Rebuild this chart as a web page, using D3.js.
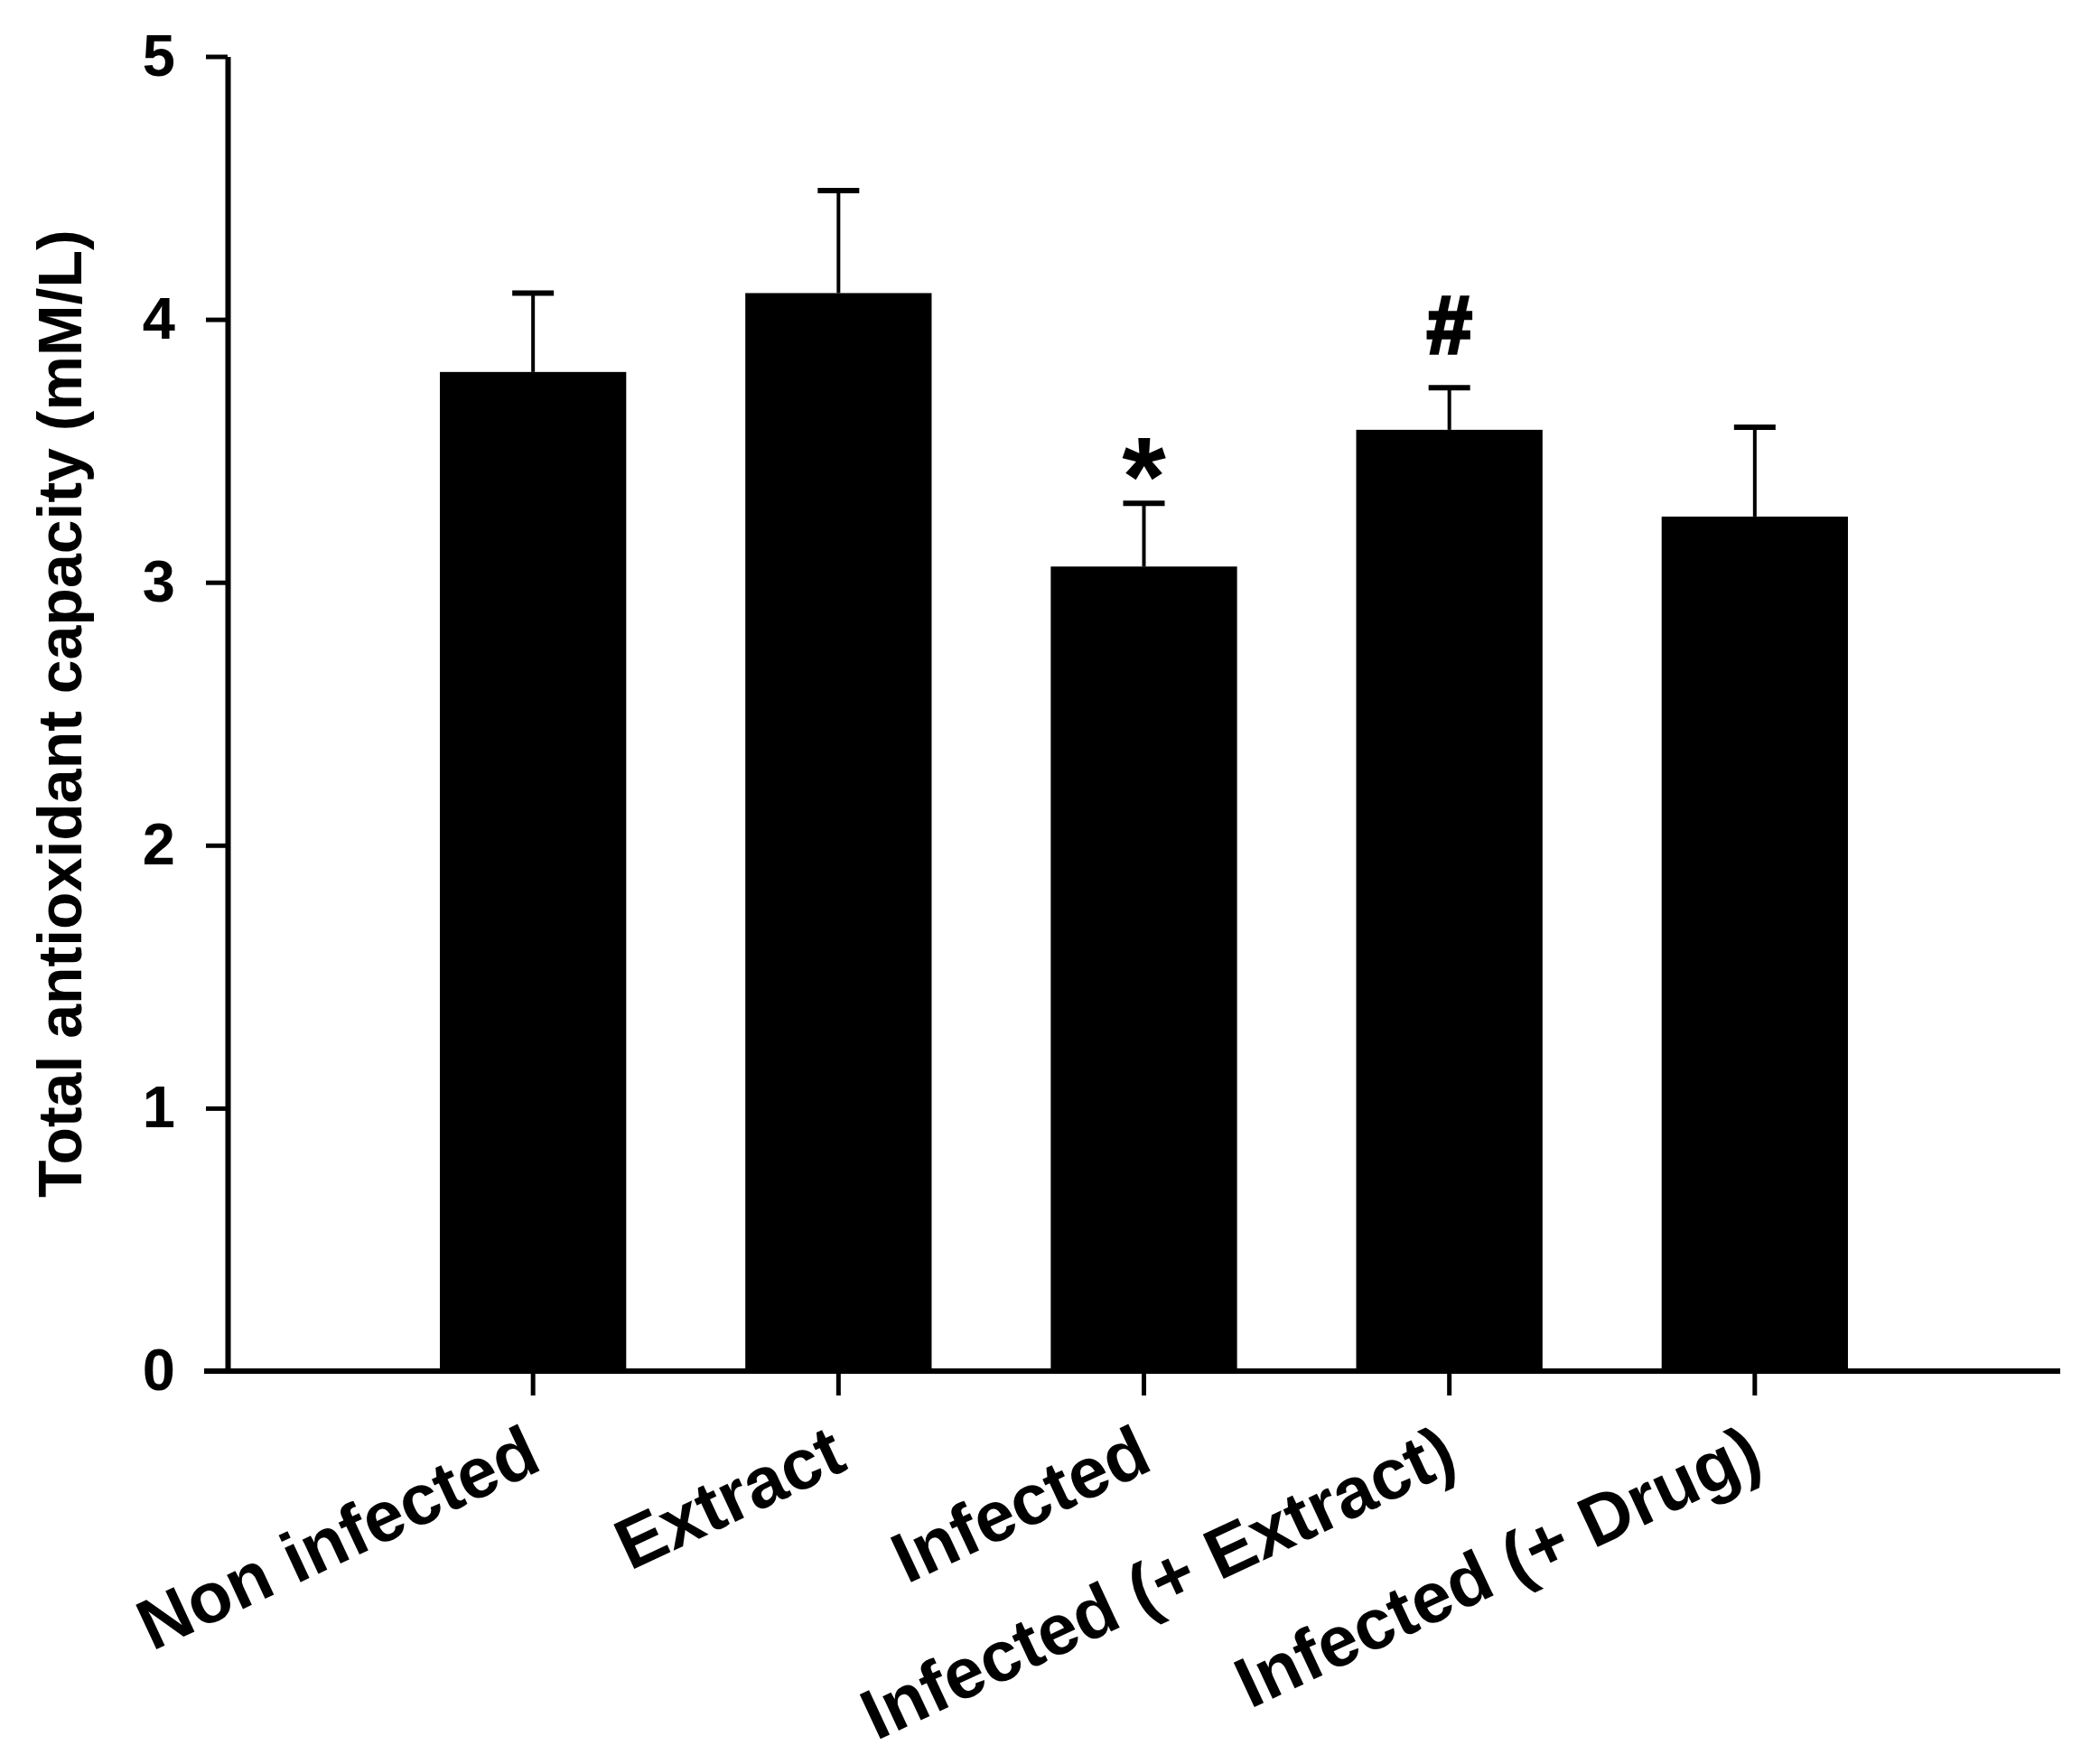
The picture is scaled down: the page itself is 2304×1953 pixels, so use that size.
<!DOCTYPE html>
<html>
<head>
<meta charset="utf-8">
<script src="https://cdn.jsdelivr.net/npm/d3@7"></script>
<style>
  html, body { margin: 0; padding: 0; background: #fff; }
  text { font-family: "Liberation Sans", Arial, sans-serif; font-weight: bold; fill: #000; }
</style>
</head>
<body>
<svg id="chart" width="2304" height="1953"></svg>
<script>
// values
var groups = ["Non infected", "Extract", "Infected", "Infected (+ Extract)", "Infected (+ Drug)"];
var means = [3.80, 4.10, 3.06, 3.58, 3.25];
var errors = [0.30, 0.39, 0.24, 0.16, 0.34];
var marks = ["", "", "*", "#", ""];
var yTicks = [0, 1, 2, 3, 4, 5];
var yTitle = "Total antioxidant capacity (mM/L)";

var svg = d3.select("#chart");
svg.append("rect").attr("width", 2304).attr("height", 1953).attr("fill", "#fff");

var axisX = 252, baseY = 1518, topY = 62.5, rightX = 2281;
var step = (rightX - axisX) / 6;

var x = d3.scaleBand().domain(groups)
  .range([axisX + step / 2, rightX - step / 2])
  .paddingInner(0.39).paddingOuter(0.195);
var y = d3.scaleLinear().domain([0, 5]).range([baseY, topY]);

var rows = groups.map(function(g, i) {
  return {name: g, mean: means[i], err: errors[i], mark: marks[i]};
});

// bars
svg.selectAll("rect.bar").data(rows).enter().append("rect")
  .attr("class", "bar")
  .attr("x", function(d) { return x(d.name); })
  .attr("width", x.bandwidth())
  .attr("y", function(d) { return y(d.mean); })
  .attr("height", function(d) { return y(0) - y(d.mean); })
  .attr("fill", "#000");

// error bars (upper only)
var cx = function(d) { return x(d.name) + x.bandwidth() / 2; };
svg.selectAll("line.err").data(rows).enter().append("line")
  .attr("x1", cx).attr("x2", cx)
  .attr("y1", function(d) { return y(d.mean); })
  .attr("y2", function(d) { return y(d.mean + d.err); })
  .attr("stroke", "#000").attr("stroke-width", 4);
svg.selectAll("line.cap").data(rows).enter().append("line")
  .attr("x1", function(d) { return cx(d) - 23; })
  .attr("x2", function(d) { return cx(d) + 23; })
  .attr("y1", function(d) { return y(d.mean + d.err); })
  .attr("y2", function(d) { return y(d.mean + d.err); })
  .attr("stroke", "#000").attr("stroke-width", 6);

// significance marks
var markStyle = {"*": {size: 125, gap: -14, stroke: 0}, "#": {size: 90, gap: 38, stroke: 3.5}};
svg.selectAll("text.mark").data(rows.filter(function(d) { return d.mark; })).enter().append("text")
  .attr("x", cx)
  .attr("y", function(d) { return y(d.mean + d.err) - markStyle[d.mark].gap; })
  .attr("text-anchor", "middle")
  .attr("stroke", "#000")
  .attr("stroke-width", function(d) { return markStyle[d.mark].stroke; })
  .style("font-size", function(d) { return markStyle[d.mark].size + "px"; })
  .text(function(d) { return d.mark; });

// y axis
var yAxis = svg.append("g").attr("transform", "translate(" + axisX + ",0)")
  .call(d3.axisLeft(y).tickValues(yTicks).tickFormat(d3.format("d")).tickSize(24).tickPadding(34).tickSizeOuter(0));
yAxis.select(".domain").attr("stroke-width", 6);
yAxis.selectAll(".tick line").attr("stroke-width", 5);
yAxis.selectAll(".tick text").style("font-size", "65px").attr("font-family", null);

// x axis
var xAxis = svg.append("g").attr("transform", "translate(0," + baseY + ")")
  .call(d3.axisBottom(x).tickSize(27).tickFormat(""));
xAxis.select(".domain").remove();
xAxis.selectAll(".tick line").attr("stroke-width", 5);
svg.append("line")
  .attr("x1", axisX - 26).attr("x2", rightX)
  .attr("y1", baseY).attr("y2", baseY)
  .attr("stroke", "#000").attr("stroke-width", 6);

// rotated category labels
svg.selectAll("text.cat").data(groups).enter().append("text")
  .attr("text-anchor", "end")
  .attr("transform", function(d) {
    return "translate(" + (x(d) + x.bandwidth() / 2 + 12) + "," + (baseY + 108) + ") rotate(-25)";
  })
  .style("font-size", "79px")
  .text(function(d) { return d; });

// y title
svg.append("text")
  .attr("text-anchor", "middle")
  .attr("transform", "translate(90," + ((topY + baseY) / 2) + ") rotate(-90)")
  .style("font-size", "68px")
  .text(yTitle);
</script>
</body>
</html>
